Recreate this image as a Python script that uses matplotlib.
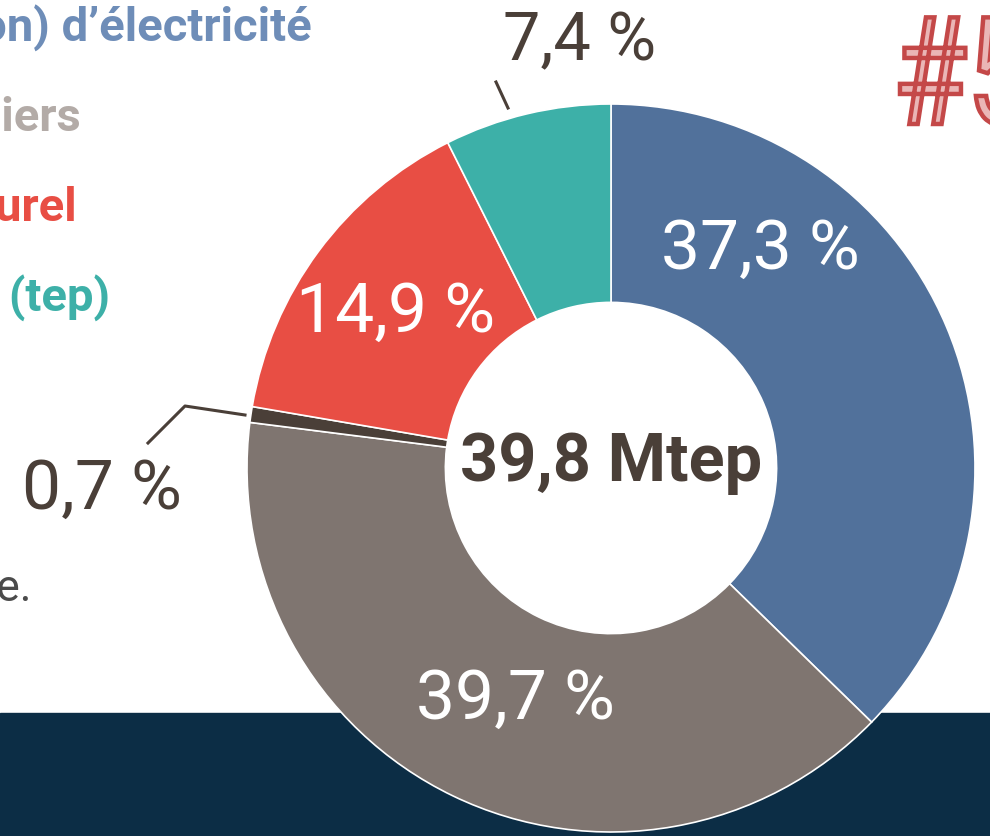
import matplotlib
matplotlib.use('Agg')
import matplotlib.pyplot as plt
from matplotlib.patches import Rectangle, PathPatch
from matplotlib.textpath import TextPath
from matplotlib.font_manager import FontProperties
from matplotlib.transforms import Affine2D

plt.rcParams['font.family'] = ['Roboto', 'DejaVu Sans']

# Données : répartition de la consommation (Mtep)
categories = ['Électricité', 'Produits pétroliers', 'Autres', 'Gaz naturel', 'Bois-énergie']
parts = [37.3, 39.7, 0.7, 14.9, 7.4]
couleurs = ['#51719B', '#7F7570', '#4A3F38', '#E84E44', '#3DB0A8']
etiquettes = ['37,3 %', '39,7 %', '0,7 %', '14,9 %', '7,4 %']
total = '39,8 Mtep'

W, H = 990, 836
fig = plt.figure(figsize=(W / 100, H / 100), dpi=100)
ax = fig.add_axes([0, 0, 1, 1])

def Y(y):
    # coordonnées pixel (origine en haut) -> axes
    return H - y

# bandeau bleu nuit en bas
ax.add_patch(Rectangle((0, 0), W, Y(713), color='#0C2D45', zorder=0))

# anneau
cx, cy, r = 611, 468, 364
ax.pie(parts, colors=couleurs, startangle=90, counterclock=False,
       center=(cx, Y(cy)), radius=r,
       wedgeprops=dict(width=r * 0.545, edgecolor='white', linewidth=1.2))

ax.set_xlim(0, W)
ax.set_ylim(0, H)
ax.set_aspect('equal')
ax.axis('off')

sombre = '#4A3F38'
# étiquettes dans l'anneau (blanches)
pos_blanc = {0: (760, 250), 1: (515, 700), 3: (396, 313)}
for i, (x, y) in pos_blanc.items():
    ax.text(x, Y(y), etiquettes[i], color='white', fontsize=50,
            ha='center', va='center', zorder=5)

# étiquettes extérieures avec traits de rappel
ax.text(580, Y(42), etiquettes[4], color=sombre, fontsize=48,
        ha='center', va='center')
ax.plot([496, 508], [Y(82), Y(108)], color=sombre, lw=2.2)

ax.text(102, Y(490), etiquettes[2], color=sombre, fontsize=50,
        ha='center', va='center')
ax.plot([148, 185, 245], [Y(443), Y(406), Y(415)], color=sombre, lw=2.2)

# total au centre
ax.text(cx, Y(463), total, color=sombre, fontsize=48, fontweight='bold',
        ha='center', va='center')

# légende (coupée à gauche)
legende = [("Consommation (hors production) d’électricité", '#6E8DB8', 28),
           ('Produits pétroliers', '#B3ABA7', 118),
           ('Gaz naturel', '#E84E44', 208),
           ('Bois-énergie (tep)', '#3DB0A8', 298)]
droites = [312, 81, 77, 110]
for (txt, c, y), xr in zip(legende, droites):
    ax.text(xr, Y(y), txt, color=c, fontsize=34, fontweight='bold',
            ha='right', va='center')

ax.text(31, Y(588), 'Source : bilan énergétique de la région, donnée provisoire.',
        color='#4B4B4B', fontsize=32, ha='right', va='center')

# numéro en contour, glyphes resserrés
tp = TextPath((0, 0), '#5', size=150, prop=FontProperties(family='Roboto'))
tr = Affine2D().scale(0.8, 1.0).translate(893, Y(124)) + ax.transData
ax.add_patch(PathPatch(tp, transform=tr, facecolor='#EAB6B6',
                       edgecolor='#C44848', lw=3.2, zorder=6))

fig.savefig('out.png', dpi=100, facecolor='white')
